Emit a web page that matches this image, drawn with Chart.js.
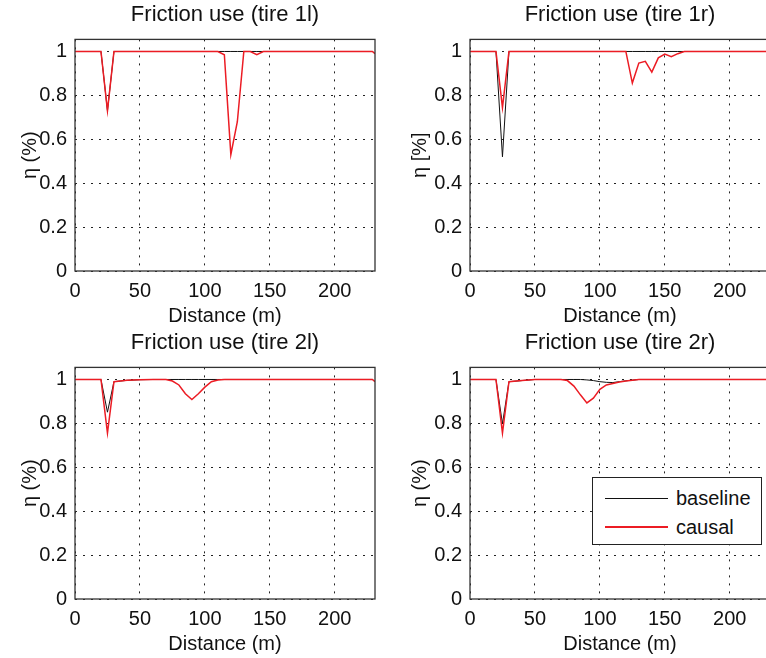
<!DOCTYPE html>
<html>
<head>
<meta charset="utf-8">
<title>Friction use</title>
<script src="https://cdn.jsdelivr.net/npm/chart.js@4.4.0/dist/chart.umd.min.js"></script>
<style>
    html, body { margin: 0; padding: 0; background: #fff; width: 766px; height: 658px; overflow: hidden; }
    canvas { position: absolute; }
    #legend {
        position: absolute; left: 592px; top: 477px; width: 168px; height: 66px;
        border: 1.5px solid #222; background: #fff;
        font-family: "Liberation Sans", Arial, Helvetica, sans-serif; font-size: 20px; color: #111;
    }
    .row { position: absolute; left: 0; width: 160px; height: 24px; line-height: 24px; }
    .row .swatch { position: absolute; left: 12px; width: 63px; }
    .row span { position: absolute; left: 83px; top: 0; white-space: nowrap; }
</style>
</head>
<body>
<canvas id="tire1l" width="383" height="329" style="left:0;top:0"></canvas>
<canvas id="tire1r" width="395" height="329" style="left:383px;top:0"></canvas>
<canvas id="tire2l" width="383" height="329" style="left:0;top:328px"></canvas>
<canvas id="tire2r" width="395" height="329" style="left:383px;top:328px"></canvas>
<div id="legend"></div>

<script>
// Distance grid (m) and friction use values
const dist1l   = [0, 20, 25, 30, 110, 115, 120, 125, 130, 135, 140, 145, 229, 231];
const base1l   = [1, 1, 0.73, 1, 1, 1, 1, 1, 1, 1, 1, 1, 1, 0.99];
const causal1l = [1, 1, 0.73, 1, 1, 0.985, 0.53, 0.68, 1, 1, 0.985, 1, 1, 0.99];

const dist1r   = [0, 20, 25, 30, 120, 125, 130, 135, 140, 145, 150, 155, 160, 165, 229, 231];
const base1r   = [1, 1, 0.52, 1, 1, 1, 1, 1, 1, 1, 1, 1, 1, 1, 1, 0.99];
const causal1r = [1, 1, 0.744, 1, 1, 0.856, 0.947, 0.955, 0.906, 0.971, 0.988, 0.976, 0.99, 1, 1, 0.99];

const dist2l   = [0, 20, 25, 30, 35, 40, 50, 60, 70, 75, 80, 85, 90, 95, 100, 105, 110, 115, 229, 231];
const base2l   = [1, 1, 0.851, 0.99, 0.993, 0.996, 0.999, 1, 1, 1, 1, 1, 1, 1, 1, 1, 1, 1, 1, 0.99];
const causal2l = [1, 1, 0.756, 0.99, 0.993, 0.996, 0.999, 1, 1, 0.993, 0.975, 0.935, 0.909, 0.935, 0.965, 0.99, 0.998, 1, 1, 0.99];

const dist2r   = [0, 20, 25, 30, 40, 50, 70, 75, 80, 85, 90, 95, 100, 105, 110, 115, 120, 125, 130, 229, 231];
const base2r   = [1, 1, 0.798, 0.99, 0.995, 1, 1, 1, 1, 1, 0.998, 0.995, 0.99, 0.987, 0.986, 0.99, 0.994, 0.997, 1, 1, 0.99];
const causal2r = [1, 1, 0.756, 0.99, 0.995, 1, 1, 0.995, 0.97, 0.93, 0.893, 0.915, 0.955, 0.975, 0.982, 0.988, 0.993, 0.997, 1, 1, 0.99];

const xTicks = [0, 50, 100, 150, 200];
const yTicks = [0, 0.2, 0.4, 0.6, 0.8, 1];

const seriesNames = ['baseline', 'causal'];
const seriesColors = ['#111111', '#ec1c24'];

const FONT = '"Liberation Sans", Arial, Helvetica, sans-serif';

// draws the closed axes box like matlab's "box on"
const boxPlugin = {
    id: 'box',
    afterDatasetsDraw(chart) {
        const { ctx, chartArea: a } = chart;
        ctx.save();
        ctx.strokeStyle = '#333';
        ctx.lineWidth = 1.3;
        ctx.strokeRect(a.left, a.top, a.right - a.left, a.bottom - a.top);
        ctx.restore();
    }
};

function toPoints(xs, ys) {
    return xs.map((x, i) => ({ x: x, y: ys[i] }));
}

function makeChart(id, title, yLabel, dist, base, causal, yAxisWidth, yTitlePad) {
    const ctx = document.getElementById(id).getContext('2d');
    return new Chart(ctx, {
        type: 'line',
        data: {
            datasets: [
                {
                    label: seriesNames[0],
                    data: toPoints(dist, base),
                    borderColor: seriesColors[0],
                    borderWidth: 1,
                    order: 2
                },
                {
                    label: seriesNames[1],
                    data: toPoints(dist, causal),
                    borderColor: seriesColors[1],
                    borderWidth: 1.5,
                    order: 1
                }
            ]
        },
        options: {
            responsive: false,
            animation: false,
            devicePixelRatio: 1,
            elements: { point: { radius: 0 }, line: { tension: 0 } },
            layout: { padding: { left: 0, right: 8, top: 0, bottom: 0 } },
            plugins: {
                legend: { display: false },
                tooltip: { enabled: false },
                title: {
                    display: true,
                    text: title,
                    fullSize: false,
                    color: '#111',
                    font: { family: FONT, size: 22, weight: 'normal' },
                    padding: { top: 2, bottom: 11 }
                }
            },
            scales: {
                x: {
                    type: 'linear',
                    min: 0,
                    max: 231,
                    afterFit: s => { s.height = 58; },
                    afterBuildTicks: s => { s.ticks = xTicks.map(v => ({ value: v })); },
                    border: { display: false, dash: [2, 6] },
                    grid: { color: '#222', lineWidth: 1, drawTicks: false },
                    ticks: { color: '#111', padding: 8, font: { family: FONT, size: 20 }, maxRotation: 0 },
                    title: {
                        display: true,
                        text: 'Distance (m)',
                        color: '#111',
                        font: { family: FONT, size: 20 },
                        padding: { top: 0, bottom: 1 }
                    }
                },
                y: {
                    type: 'linear',
                    min: 0,
                    max: 1.055,
                    afterFit: s => { s.width = yAxisWidth; },
                    afterBuildTicks: s => { s.ticks = yTicks.map(v => ({ value: v })); },
                    border: { display: false, dash: [2, 6] },
                    grid: { color: '#222', lineWidth: 1, drawTicks: false },
                    ticks: {
                        color: '#111',
                        padding: 8,
                        font: { family: FONT, size: 20 },
                        callback: v => String(Math.round(v * 10) / 10)
                    },
                    title: {
                        display: true,
                        text: yLabel,
                        color: '#111',
                        font: { family: FONT, size: 20 },
                        padding: { top: yTitlePad, bottom: 0 }
                    }
                }
            }
        },
        plugins: [boxPlugin]
    });
}

makeChart('tire1l', 'Friction use (tire 1l)', 'η (%)', dist1l, base1l, causal1l, 75, 18);
makeChart('tire1r', 'Friction use (tire 1r)', 'η [%]', dist1r, base1r, causal1r, 87, 25);
makeChart('tire2l', 'Friction use (tire 2l)', 'η (%)', dist2l, base2l, causal2l, 75, 18);
makeChart('tire2r', 'Friction use (tire 2r)', 'η (%)', dist2r, base2r, causal2r, 87, 25);

// legend box inside the last panel
const legend = document.getElementById('legend');
seriesNames.forEach((name, i) => {
    const row = document.createElement('div');
    row.className = 'row';
    row.style.top = (8 + i * 29) + 'px';
    const h = i ? 2 : 1;
    row.innerHTML = '<div class="swatch" style="top:' + (12 - Math.floor(h / 2)) + 'px;height:' + h + 'px;background:' + seriesColors[i] + '"></div><span>' + name + '</span>';
    legend.appendChild(row);
});
</script>
</body>
</html>
